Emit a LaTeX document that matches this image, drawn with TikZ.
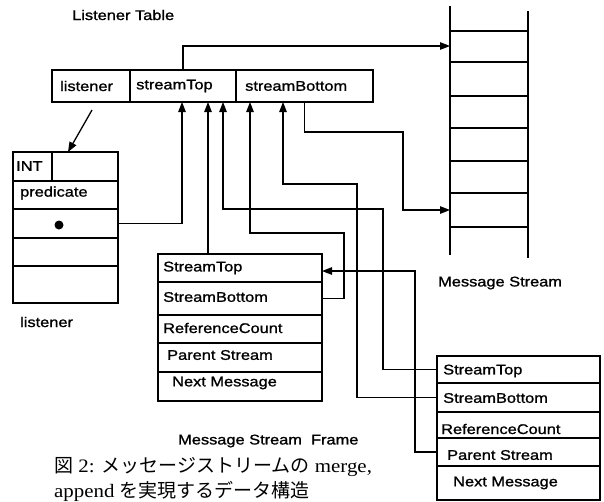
\documentclass[tikz,border=0pt]{standalone}
\usepackage{fontspec}
\setmainfont{Liberation Serif}
\newfontfamily\labfont[FakeStretch=1.17,FakeBold=1.2]{Liberation Sans}
\newfontfamily\jpfont{Noto Sans CJK JP}
\newfontfamily\capserif[FakeStretch=1.1]{Liberation Serif}
\newcommand{\jpt}[1]{{\jpfont\fontsize{19}{24}\selectfont #1}}
\usetikzlibrary{arrows.meta}
\tikzset{
  cellbox/.style={draw, line width=1.3pt, inner sep=0pt, outer sep=0pt},
  lab/.style={font=\labfont\fontsize{14}{16}\selectfont, anchor=west, inner sep=0pt},
  captext/.style={anchor=west, inner sep=0pt},
  link/.style={line width=1.3pt},
  arr/.style={line width=1.3pt, -{Triangle[length=10pt,width=7.5pt]}},
  dotnode/.style={circle, fill, inner sep=0pt, minimum size=9pt}
}
\begin{document}
\begin{tikzpicture}[x=1pt,y=-1pt]
\useasboundingbox (0,0) rectangle (604,501);

% ---------- Listener Table ----------
\node[lab] (ltTitle) at (72,15) {Listener Table};
\node[cellbox, minimum width=78pt, minimum height=32pt] (tl) at (91,86) {};
\node[cellbox, minimum width=106pt, minimum height=32pt] (ttop) at (183,86) {};
\node[cellbox, minimum width=137pt, minimum height=32pt] (tbot) at (304.5,86) {};
\node[lab] (tlL) at (60,86) {listener};
\node[lab] (ttopL) at (136,86) {streamTop};
\node[lab] (tbotL) at (245,86) {streamBottom};

% ---------- listener record ----------
\node[cellbox, minimum width=39pt, minimum height=29pt] (lint) at (32.5,166.5) {};
\node[cellbox, minimum width=66pt, minimum height=29pt] (lint2) at (85,166.5) {};
\node[cellbox, minimum width=105pt, minimum height=28pt] (lpred) at (65.5,195) {};
\node[cellbox, minimum width=105pt, minimum height=29pt] (ldot) at (65.5,223.5) {};
\node[cellbox, minimum width=105pt, minimum height=28pt] (l4) at (65.5,252) {};
\node[cellbox, minimum width=105pt, minimum height=37pt] (l5) at (65.5,284.5) {};
\node[lab] (lintL) at (16,166) {INT};
\node[lab] (lpredL) at (20,193) {predicate};
\node[dotnode] (dot) at (59,225) {};
\node[lab] (lname) at (20,322) {listener};

% ---------- Message Stream ----------
\coordinate (msLt) at (450,6);   \coordinate (msLb) at (450,255);
\coordinate (msRt) at (528,11);  \coordinate (msRb) at (528,258);
\draw[link] (msLt) -- (msLb);
\draw[link] (msRt) -- (msRb);
\foreach \yy in {31,62,96,128,161,193,227} \draw[link] (450,\yy) -- (528,\yy);
\node[lab] (msL) at (438,283) {Message Stream};

% ---------- Message Stream Frame 1 ----------
\node[cellbox, minimum width=164pt, minimum height=28pt] (f1top) at (240,268) {};
\node[cellbox, minimum width=164pt, minimum height=33pt] (f1bot) at (240,298.5) {};
\node[cellbox, minimum width=164pt, minimum height=28pt] (f1ref) at (240,329) {};
\node[cellbox, minimum width=164pt, minimum height=29pt] (f1par) at (240,357.5) {};
\node[cellbox, minimum width=164pt, minimum height=29pt] (f1next) at (240,386.5) {};
\node[lab] (f1topL) at (163,268) {StreamTop};
\node[lab] (f1botL) at (163,297) {StreamBottom};
\node[lab] (f1refL) at (163,328) {ReferenceCount};
\node[lab] (f1parL) at (167,355) {Parent Stream};
\node[lab] (f1nextL) at (172,383) {Next Message};
\node[lab] (frameL) at (178,441) {Message Stream\ \ Frame};

% ---------- Message Stream Frame 2 ----------
\node[cellbox, minimum width=163pt, minimum height=27pt] (f2top) at (518.5,369.5) {};
\node[cellbox, minimum width=163pt, minimum height=29pt] (f2bot) at (518.5,397.5) {};
\node[cellbox, minimum width=163pt, minimum height=26pt] (f2ref) at (518.5,425) {};
\node[cellbox, minimum width=163pt, minimum height=28pt] (f2par) at (518.5,452) {};
\node[cellbox, minimum width=163pt, minimum height=34pt] (f2next) at (518.5,483) {};
\node[lab] (f2topL) at (443,371) {StreamTop};
\node[lab] (f2botL) at (443,398) {StreamBottom};
\node[lab] (f2refL) at (441,429) {ReferenceCount};
\node[lab] (f2parL) at (447,455) {Parent Stream};
\node[lab] (f2nextL) at (453,483) {Next Message};

% ---------- caption ----------
\node[captext] (cap1) at (54,467) {\capserif\fontsize{19}{24}\selectfont \jpt{図} 2: \jpt{メッセージストリームの} merge,};
\node[captext] (cap2) at (54,491) {\capserif\fontsize{19}{24}\selectfont append \jpt{を実現するデータ構造}};

% ---------- connectors ----------
\coordinate (a1) at (182,102);
\coordinate (a2) at (208,102);
\coordinate (a3) at (223,102);
\coordinate (a4) at (250,102);
\coordinate (a5) at (283,102);
\coordinate (up1) at (183,46);
\coordinate (msIn1) at (450,46);
\coordinate (c1) at (403,132);
\coordinate (msIn2) at (450,210);
\coordinate (b1) at (344,233);
\coordinate (b2) at (383,209);
\coordinate (b3) at (357,184);
\coordinate (b4) at (415,271);
\coordinate (lstart) at (92,110);
\coordinate (ltip) at (68,152);

\draw[arr] (ttop.north) -- (up1) -- (msIn1);
\draw[arr] (tbot.south) |- (c1) |- (msIn2);
\draw[arr] (ldot.east) -| (a1);
\draw[arr] (f1top.north -| a2) -- (a2);
\draw[arr] (f1bot.east) -| (b1) -| (a4);
\draw[arr] (f2top.west) -| (b2) -| (a3);
\draw[arr] (f2bot.west) -| (b3) -| (a5);
\draw[arr] (f2par.west) -| (b4) -- (b4 -| f1top.east);
\draw[arr] (lstart) -- (ltip);
\end{tikzpicture}
\end{document}
